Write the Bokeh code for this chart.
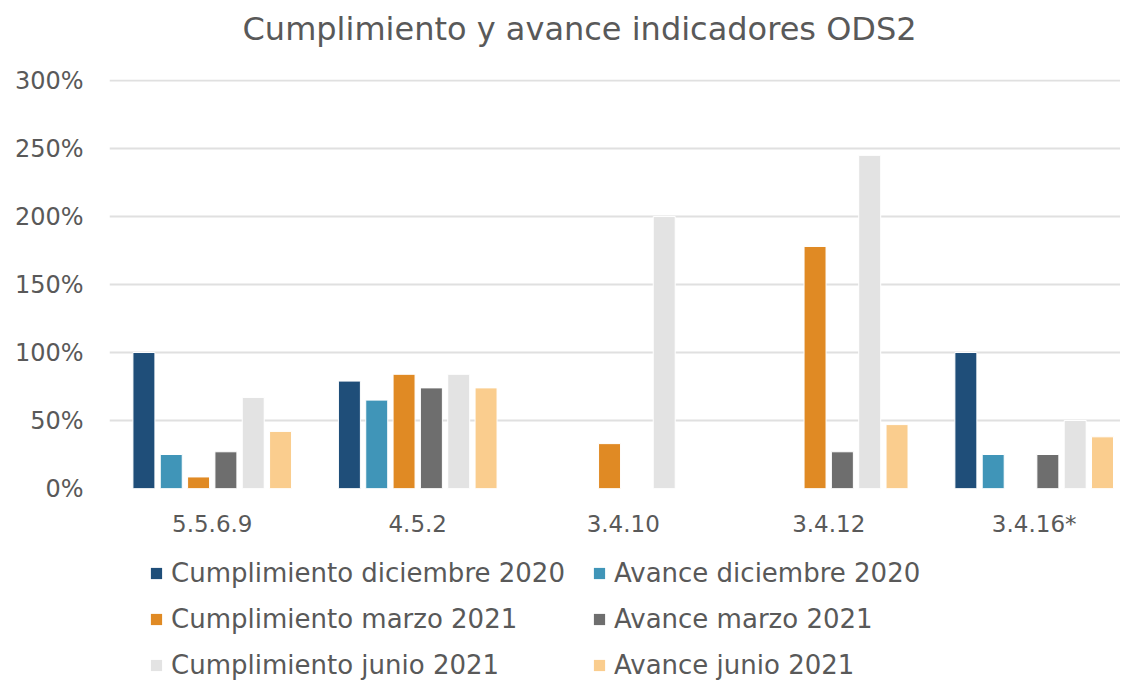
from bokeh.plotting import figure
from bokeh.layouts import column
from bokeh.models import (Range1d, FixedTicker, PrintfTickFormatter, Legend, LegendItem,
                          ColumnDataSource)
from bokeh.transform import dodge
from bokeh.embed import file_html
from bokeh.resources import INLINE

categories = ["5.5.6.9", "4.5.2", "3.4.10", "3.4.12", "3.4.16*"]
series_names = ["Cumplimiento diciembre 2020", "Avance diciembre 2020",
                "Cumplimiento marzo 2021", "Avance marzo 2021",
                "Cumplimiento junio 2021", "Avance junio 2021"]
cumplimiento_dic_2020 = [100, 79, 0, 0, 100]
avance_dic_2020 = [25, 65, 0, 0, 25]
cumplimiento_mar_2021 = [8.5, 84, 33, 178, 0]
avance_mar_2021 = [27, 74, 0, 27, 25]
cumplimiento_jun_2021 = [67, 84, 200, 245, 50]
avance_jun_2021 = [42, 74, 0, 47, 38]
y_ticks = [0, 50, 100, 150, 200, 250, 300]

series_values = [cumplimiento_dic_2020, avance_dic_2020, cumplimiento_mar_2021,
                 avance_mar_2021, cumplimiento_jun_2021, avance_jun_2021]
colors = ["#1F4E79", "#4095B8", "#E08A24", "#6E6E6E", "#E3E3E3", "#FACD8E"]

FONT = "DejaVu Sans"
TEXT = "#595959"
W = 1120
H0, H1, H2 = 65, 480, 135   # title strip, chart, legend strip

# --- title strip -------------------------------------------------------------
p0 = figure(width=W, height=H0, output_backend="svg", toolbar_location=None,
            x_axis_type=None, y_axis_type=None, min_border=0)
p0.outline_line_color = None
p0.title.text = "Cumplimiento y avance indicadores ODS2"
p0.title.align = "left"
p0.title.offset = 133
p0.title.text_font = FONT
p0.title.text_font_size = "32px"
p0.title.text_font_style = "normal"
p0.title.text_color = TEXT
p0.title.standoff = 14

# --- chart -------------------------------------------------------------------
p = figure(width=W, height=H1, output_backend="svg", toolbar_location=None,
           x_range=Range1d(-0.5, 4.42), y_range=Range1d(0, 300.8),
           min_border_left=109, min_border_right=0, min_border_top=14,
           min_border_bottom=57)
p.outline_line_color = None

src = ColumnDataSource(dict(x=list(range(len(categories))),
                            **{f"s{i}": v for i, v in enumerate(series_values)}))

stride = 0.133
for i, col in enumerate(colors):
    p.vbar(x=dodge("x", (i - 2.5) * stride), top=f"s{i}",
           width=0.107, source=src, fill_color=col, line_color="white",
           line_width=1)

p.xaxis.ticker = FixedTicker(ticks=list(range(len(categories))))
p.xaxis.major_label_overrides = {i: c for i, c in enumerate(categories)}
p.xaxis.axis_line_color = None
p.xaxis.major_tick_line_color = None
p.xaxis.minor_tick_line_color = None
p.xaxis.major_label_text_font = FONT
p.xaxis.major_label_text_font_size = "23px"
p.xaxis.major_label_text_color = TEXT
p.xaxis.major_label_standoff = 16

p.yaxis.ticker = FixedTicker(ticks=y_ticks)
p.yaxis.formatter = PrintfTickFormatter(format="%d%%")
p.yaxis.axis_line_color = None
p.yaxis.major_tick_line_color = None
p.yaxis.minor_tick_line_color = None
p.yaxis.major_label_text_font = FONT
p.yaxis.major_label_text_font_size = "24px"
p.yaxis.major_label_text_color = TEXT
p.yaxis.major_label_standoff = 20

p.xgrid.grid_line_color = None
p.ygrid.ticker = FixedTicker(ticks=y_ticks)
p.ygrid.grid_line_color = "#E0E0E0"
p.ygrid.grid_line_width = 2

# --- legend strip (hidden proxies share the chart's data) --------------------
p2 = figure(width=W, height=H2, output_backend="svg", toolbar_location=None,
            x_range=p.x_range, y_range=p.y_range,
            x_axis_type=None, y_axis_type=None, min_border=0)
p2.outline_line_color = None
proxies = []
for i, col in enumerate(colors):
    r = p2.vbar(x="x", top=f"s{i}", width=0.1, source=src, fill_color=col,
                line_color=None, visible=False)
    proxies.append(r)

# legend fills column by column: put "Cumplimiento" in col 1, "Avance" in col 2
order = [0, 2, 4, 1, 3, 5]
items = [LegendItem(label=series_names[k], renderers=[proxies[k]]) for k in order]

legend = Legend(items=items, ncols=2, location=(40, 0),
                label_text_font=FONT, label_text_font_size="26px",
                label_text_color=TEXT, glyph_width=14, glyph_height=14,
                label_standoff=8, spacing=16, label_height=30, label_width=405,
                padding=0, margin=0, border_line_color=None,
                background_fill_alpha=0, click_policy="none")
p2.add_layout(legend, "center")

layout = column(p0, p, p2, spacing=0)
open("out.html", "w").write(file_html(layout, INLINE))
